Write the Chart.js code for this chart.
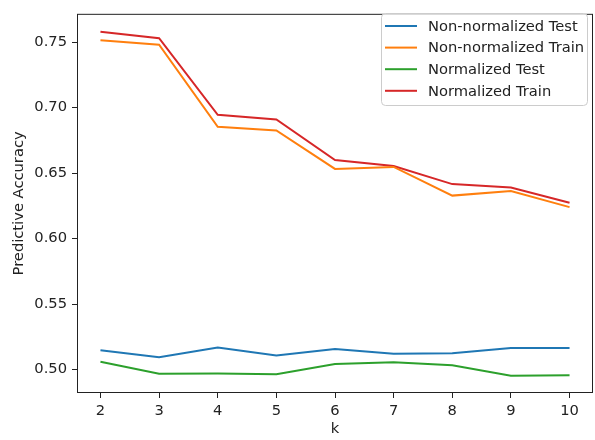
<!DOCTYPE html>
<html>
<head>
<meta charset="utf-8">
<script src="https://cdn.jsdelivr.net/npm/chart.js@4"></script>
<style>
  body { margin: 0; background: #fff; }
  #wrap { width: 595px; height: 440px; }
</style>
</head>
<body>
<div id="wrap"><canvas id="acc"></canvas></div>
<script>
// k values and accuracy per series
const ks = [2, 3, 4, 5, 6, 7, 8, 9, 10];
const yTicks = [0.50, 0.55, 0.60, 0.65, 0.70, 0.75];
const nonNormTest  = [0.5147, 0.5094, 0.5169, 0.5107, 0.5157, 0.5120, 0.5124, 0.5164, 0.5164];
const nonNormTrain = [0.7515, 0.7480, 0.6853, 0.6826, 0.6532, 0.6547, 0.6328, 0.6363, 0.6240];
const normTest     = [0.5060, 0.4968, 0.4970, 0.4965, 0.5042, 0.5055, 0.5032, 0.4953, 0.4957];
const normTrain    = [0.7580, 0.7530, 0.6945, 0.6910, 0.6600, 0.6554, 0.6416, 0.6390, 0.6274];

const toPoints = (vals) => ks.map((k, i) => ({ x: k, y: vals[i] }));

const FONT = "'DejaVu Sans', sans-serif";
Chart.defaults.font.family = FONT;
Chart.defaults.font.size = 14.7;
Chart.defaults.color = '#222';

// draws the box round the plot and the legend in the upper right
const frameAndLegend = {
    id: 'frameAndLegend',
    afterDraw(chart) {
        const ctx = chart.ctx;
        const a = chart.chartArea;
        ctx.save();
        ctx.strokeStyle = '#222';
        ctx.lineWidth = 1;
        ctx.strokeRect(a.left + 0.5, a.top + 0.5, a.right - a.left - 1, a.bottom - a.top - 1);

        // legend
        const bx = 381, by = 13, bw = 206, bh = 92, r = 4;
        ctx.fillStyle = 'rgba(255,255,255,0.8)';
        ctx.strokeStyle = '#cccccc';
        ctx.beginPath();
        ctx.roundRect(bx + 0.5, by + 0.5, bw, bh, r);
        ctx.fill();
        ctx.stroke();

        ctx.font = '14.7px ' + FONT;
        ctx.textBaseline = 'middle';
        ctx.textAlign = 'left';
        chart.data.datasets.forEach((ds, i) => {
            const y = by + 13 + i * 21.6;
            ctx.strokeStyle = ds.borderColor;
            ctx.lineWidth = 2;
            ctx.beginPath();
            ctx.moveTo(bx + 4, y);
            ctx.lineTo(bx + 36, y);
            ctx.stroke();
            ctx.fillStyle = '#222';
            ctx.fillText(ds.label, bx + 47, y + 1);
        });
        ctx.restore();
    }
};

new Chart(document.getElementById('acc'), {
    type: 'line',
    data: {
        datasets: [
            { label: 'Non-normalized Test', data: toPoints(nonNormTest), borderColor: '#1f77b4' },
            { label: 'Non-normalized Train', data: toPoints(nonNormTrain), borderColor: '#ff7f0e' },
            { label: 'Normalized Test', data: toPoints(normTest), borderColor: '#2ca02c' },
            { label: 'Normalized Train', data: toPoints(normTrain), borderColor: '#d62728' }
        ]
    },
    options: {
        animation: false,
        responsive: true,
        maintainAspectRatio: false,
        layout: { padding: { top: 5, right: 2, left: 0, bottom: 0 } },
        elements: {
            line: { borderWidth: 2, tension: 0, fill: false },
            point: { radius: 0 }
        },
        plugins: {
            legend: { display: false },
            tooltip: { enabled: false }
        },
        scales: {
            x: {
                type: 'linear',
                min: 1.6,
                max: 10.4,
                afterBuildTicks: (scale) => { scale.ticks = ks.map(v => ({ value: v })); },
                afterFit: (scale) => { scale.height = 47; },
                grid: { drawOnChartArea: false, drawTicks: true, tickLength: 5, color: '#222' },
                border: { display: false },
                ticks: { padding: 4, maxRotation: 0, callback: (v) => String(v) },
                title: { display: true, text: 'k', padding: { top: 0, bottom: 2 } }
            },
            y: {
                min: 0.4821,
                max: 0.7716,
                afterBuildTicks: (scale) => { scale.ticks = yTicks.map(v => ({ value: v })); },
                afterFit: (scale) => { scale.width = 77; },
                grid: { drawOnChartArea: false, drawTicks: true, tickLength: 5, color: '#222' },
                border: { display: false },
                ticks: { padding: 5, callback: (v) => v.toFixed(2) },
                title: { display: true, text: 'Predictive Accuracy', padding: { top: 10, bottom: 0 } }
            }
        }
    },
    plugins: [frameAndLegend]
});
</script>
</body>
</html>
